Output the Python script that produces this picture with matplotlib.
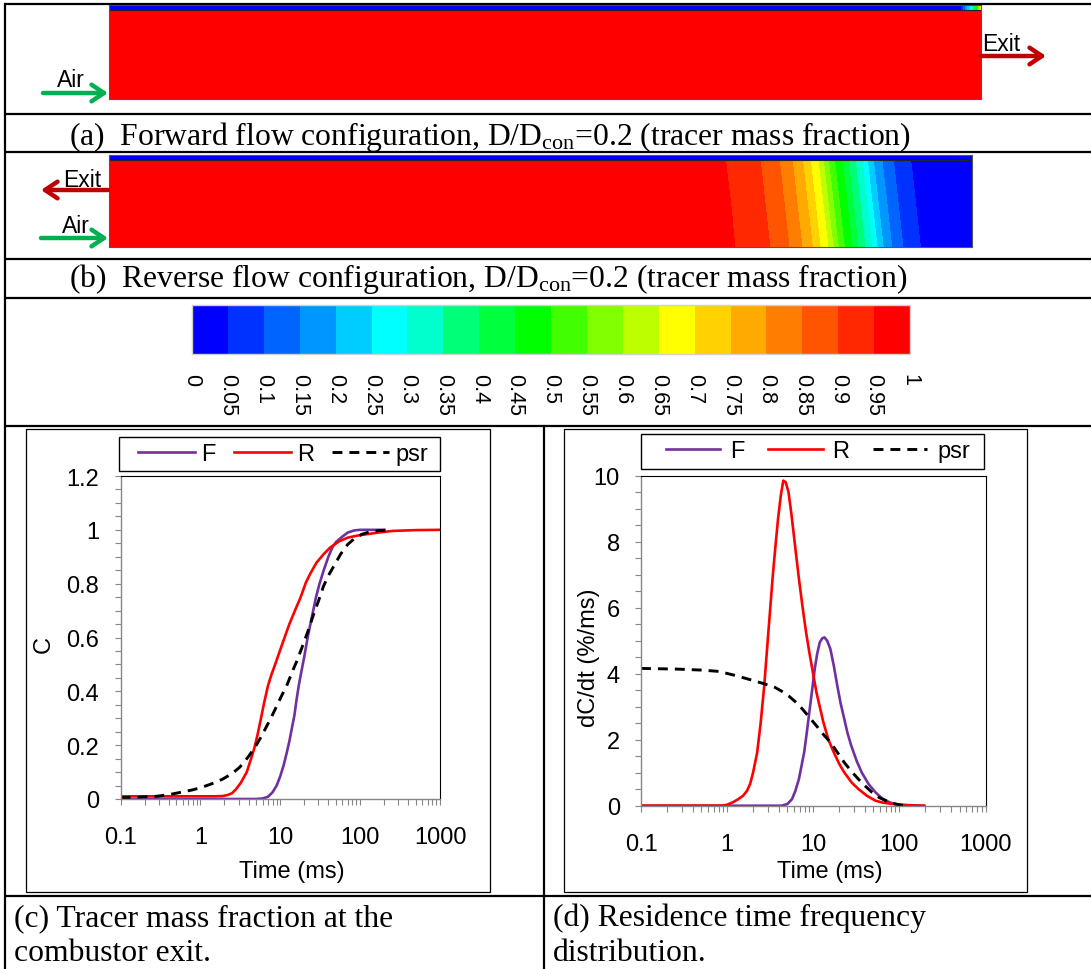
import numpy as np
import matplotlib
matplotlib.use("Agg")
import matplotlib.pyplot as plt
from matplotlib.colors import ListedColormap, BoundaryNorm
from matplotlib.lines import Line2D
from matplotlib.patches import Rectangle
from matplotlib.cm import ScalarMappable
import matplotlib.ticker as mticker

# ---------------- data ----------------
# contour levels / colour bar
levels = [0.0, 0.05, 0.1, 0.15, 0.2, 0.25, 0.3, 0.35, 0.4, 0.45, 0.5,
          0.55, 0.6, 0.65, 0.7, 0.75, 0.8, 0.85, 0.9, 0.95, 1.0]
level_labels = ["0", "0.05", "0.1", "0.15", "0.2", "0.25", "0.3", "0.35", "0.4", "0.45",
                "0.5", "0.55", "0.6", "0.65", "0.7", "0.75", "0.8", "0.85", "0.9", "0.95", "1"]
band_colors = ["#0000FF", "#0032FF", "#0064FF", "#0096FF", "#00CDFF", "#00FFFF",
               "#00FFCD", "#00FF78", "#00FF3C", "#00FF00", "#41FF00", "#82FF00",
               "#BEFF00", "#FFFF00", "#FFD200", "#FFAA00", "#FF7D00", "#FF5500",
               "#FF2800", "#FF0000"]

# forward flow: tracer in the top (air) channel along the axis
fwd_strip_pos = [0.0, 0.975, 0.979, 0.99, 1.0]
fwd_strip_C = [0.0, 0.0, 0.1, 0.3, 0.7]
# reverse flow: axial profile of tracer mass fraction
rev_pos = [0.0, 0.720, 0.760, 0.782, 0.797, 0.809, 0.818, 0.827, 0.833, 0.839, 0.846,
           0.855, 0.862, 0.870, 0.878, 0.884, 0.891, 0.901, 0.914, 0.934, 1.0]
rev_C = [1.0, 0.95, 0.90, 0.85, 0.80, 0.75, 0.70, 0.65, 0.60, 0.55, 0.50,
         0.45, 0.40, 0.35, 0.30, 0.25, 0.20, 0.15, 0.10, 0.05, 0.0]

# (c) tracer mass fraction at exit
tF_c = [0.1, 1, 3, 5, 6, 7, 8, 9, 10, 11, 12, 13, 14, 15, 16, 17, 18, 20, 22, 25, 28,
        31, 35, 40, 45, 50, 60, 70, 85, 100, 200]
CF_c = [0, 0, 0, 0, 0.002, 0.008, 0.025, 0.05, 0.085, 0.125, 0.17, 0.215, 0.265, 0.31,
        0.37, 0.42, 0.46, 0.53, 0.6, 0.68, 0.75, 0.8, 0.85, 0.9, 0.935, 0.955, 0.975,
        0.99, 0.998, 1.0, 1.0]
tR_c = [0.1, 0.5, 1, 1.5, 1.9, 2.2, 2.5, 2.8, 3.2, 3.8, 4.2, 4.7, 5.2, 5.7, 6.3, 7, 7.7,
        8.5, 10, 11.5, 13, 15.5, 18, 20.9, 24, 28.4, 35, 42, 55, 70, 90, 116, 170, 257,
        500, 1000]
CR_c = [0.01, 0.01, 0.01, 0.01, 0.011, 0.015, 0.022, 0.037, 0.06, 0.1, 0.14, 0.186,
        0.24, 0.297, 0.36, 0.42, 0.46, 0.495, 0.555, 0.606, 0.65, 0.705, 0.75, 0.804,
        0.84, 0.878, 0.91, 0.934, 0.958, 0.971, 0.978, 0.983, 0.99, 0.996, 0.999, 1.0]
tP_c = [0.1, 0.15, 0.2, 0.28, 0.4, 0.57, 0.8, 1.03, 1.4, 1.9, 2.5, 3.1, 3.6, 4.2, 5,
        5.7, 6.6, 7.7, 9, 10.4, 12, 14, 16.5, 19, 22, 25.7, 30, 34.7, 40, 47, 57, 70,
        85, 104, 130, 170, 250]
CP_c = [0.005, 0.006, 0.008, 0.01, 0.016, 0.025, 0.034, 0.043, 0.057, 0.074, 0.095,
        0.118, 0.14, 0.167, 0.2, 0.229, 0.265, 0.303, 0.345, 0.384, 0.42, 0.47, 0.52,
        0.569, 0.62, 0.68, 0.735, 0.79, 0.83, 0.866, 0.91, 0.946, 0.968, 0.983, 0.992,
        0.997, 1.0]

# (d) residence time frequency distribution
tF_d = [0.1, 1, 4.3, 5.0, 5.67, 6.2, 6.82, 7.3, 7.85, 8.4, 9.0, 9.7, 10.4, 11.1, 11.9,
        12.7, 13.5, 14.5, 15.8, 17.3, 19, 20.8, 22.9, 25, 27.6, 32, 36.5, 44, 53, 63,
        77, 100, 150, 190]
vF_d = [0, 0, 0, 0.05, 0.2, 0.45, 0.81, 1.2, 1.62, 2.2, 2.83, 3.5, 4.14, 4.6, 4.95,
        5.07, 5.1, 5.0, 4.75, 4.25, 3.64, 3.1, 2.63, 2.2, 1.82, 1.35, 1.01, 0.65, 0.4,
        0.22, 0.1, 0.02, 0.0, 0.0]
tR_d = [0.1, 0.5, 0.88, 1.0, 1.16, 1.35, 1.53, 1.7, 1.85, 2.0, 2.23, 2.45, 2.69, 3.0,
        3.39, 3.65, 3.9, 4.2, 4.49, 4.8, 5.16, 5.6, 6.21, 6.8, 7.48, 8.2, 9.0, 10.9,
        13.1, 15, 17.3, 20, 22.9, 28, 33.3, 42, 53, 65, 84.6, 120, 178, 195]
vR_d = [0, 0, 0, 0.03, 0.1, 0.2, 0.3, 0.45, 0.66, 1.0, 1.6, 2.5, 3.6, 5.2, 6.97, 7.9,
        8.69, 9.4, 9.85, 9.8, 9.5, 8.8, 7.78, 6.9, 6.06, 5.3, 4.65, 3.43, 2.53, 2.0,
        1.62, 1.27, 1.01, 0.7, 0.51, 0.3, 0.15, 0.09, 0.05, 0.02, 0.0, 0.0]
tP_d = [0.1, 0.26, 0.5, 0.8, 1.27, 2.03, 2.8, 3.56, 4.3, 5.16, 6.2, 7.48, 9.0, 10.9,
        13, 15.8, 19, 22.9, 28, 33.3, 40, 48.3, 58, 70, 85, 102, 110]
vP_d = [4.16, 4.14, 4.11, 4.07, 3.94, 3.79, 3.68, 3.59, 3.47, 3.33, 3.15, 2.93, 2.68,
        2.42, 2.17, 1.92, 1.62, 1.31, 1.03, 0.81, 0.6, 0.4, 0.25, 0.15, 0.07, 0.02, 0.01]

series_labels = ["F", "R", "psr"]
x_ticks = [0.1, 1, 10, 100, 1000]
x_ticklabels = ["0.1", "1", "10", "100", "1000"]
c_yticks = [0, 0.2, 0.4, 0.6, 0.8, 1.0, 1.2]
c_yticklabels = ["0", "0.2", "0.4", "0.6", "0.8", "1", "1.2"]
d_yticks = [0, 2, 4, 6, 8, 10]
d_yticklabels = ["0", "2", "4", "6", "8", "10"]

caption_a = r"(a)  Forward flow configuration, D/D$_{\mathrm{con}}$=0.2 (tracer mass fraction)"
caption_b = r"(b)  Reverse flow configuration, D/D$_{\mathrm{con}}$=0.2 (tracer mass fraction)"
caption_c = "(c) Tracer mass fraction at the\ncombustor exit."
caption_d = "(d) Residence time frequency\ndistribution."

# ---------------- style ----------------
W, H = 1091, 970
plt.rcParams["font.family"] = ["Liberation Sans", "DejaVu Sans"]
plt.rcParams["mathtext.fontset"] = "custom"
plt.rcParams["mathtext.rm"] = "Liberation Serif"
plt.rcParams["mathtext.it"] = "Liberation Serif:italic"
SERIF = "Liberation Serif"
PURPLE = "#7030A0"
RED = "#FF0000"
GREEN = "#00B050"
DKRED = "#C00000"
AXGRAY = "#868686"
FS = 17

fig = plt.figure(figsize=(W / 100, H / 100), dpi=100)
fig.patch.set_facecolor("white")


def fbox(x0, y0, x1, y1):
    return [x0 / W, 1 - y1 / H, (x1 - x0) / W, (y1 - y0) / H]


cmap = ListedColormap(band_colors)
norm = BoundaryNorm(levels, cmap.N)
strip = 0.055

# ---------------- contour (a) ----------------
axa = fig.add_axes(fbox(109, 6, 981, 100))
gx = np.linspace(0, 1, 900)
XA, YA = np.meshgrid(gx, np.linspace(0, 1 - strip, 60))
ZA = np.ones_like(XA)
axa.contourf(XA, YA, ZA, levels=levels, cmap=cmap, norm=norm)
XS, YS = np.meshgrid(gx, np.linspace(1 - strip, 1, 6))
ZS = np.interp(XS, fwd_strip_pos, fwd_strip_C)
axa.contourf(XS, YS, ZS, levels=levels, cmap=cmap, norm=norm)
axa.axhline(1 - strip, color="#222222", lw=0.8)

# ---------------- contour (b) ----------------
axb = fig.add_axes(fbox(109, 156, 972, 248))
XB, YB = np.meshgrid(gx, np.linspace(0, 1 - strip, 120))
eff = XB + 0.012 * (YB - 0.5)
ZB = np.interp(eff, rev_pos, rev_C)
axb.contourf(XB, YB, ZB, levels=levels, cmap=cmap, norm=norm)
XS2, YS2 = np.meshgrid(gx, np.linspace(1 - strip, 1, 6))
axb.contourf(XS2, YS2, np.zeros_like(XS2), levels=levels, cmap=cmap, norm=norm)
axb.axhline(1 - strip, color="#222222", lw=0.8)

for ax in (axa, axb):
    ax.set_xlim(0, 1)
    ax.set_ylim(0, 1)
    ax.set_xticks([])
    ax.set_yticks([])
    for s in ax.spines.values():
        s.set_color("#555555")
        s.set_linewidth(0.8)

# ---------------- colour bar ----------------
cax = fig.add_axes(fbox(192, 306, 910, 355))
sm = ScalarMappable(norm=norm, cmap=cmap)
cb = fig.colorbar(sm, cax=cax, orientation="horizontal", ticks=levels)
cb.set_ticklabels(level_labels)
cb.outline.set_edgecolor("#d0d0d0")
cb.outline.set_linewidth(1)
cax.tick_params(length=0, pad=14, labelsize=15.5, labelrotation=-90)

# ---------------- charts ----------------
def style_chart(ax, yticks, yticklabels, ylim, yminor):
    ax.set_xscale("log")
    ax.set_xlim(0.1, 1000)
    ax.set_ylim(*ylim)
    ax.xaxis.set_major_locator(mticker.FixedLocator(x_ticks))
    ax.xaxis.set_major_formatter(mticker.FixedFormatter(x_ticklabels))
    ax.xaxis.set_minor_locator(mticker.LogLocator(base=10, subs=np.arange(2, 10)))
    ax.xaxis.set_minor_formatter(mticker.NullFormatter())
    ax.set_yticks(yticks)
    ax.set_yticklabels(yticklabels)
    ax.yaxis.set_minor_locator(mticker.MultipleLocator(yminor))
    for s in ("left", "bottom"):
        ax.spines[s].set_color(AXGRAY)
        ax.spines[s].set_linewidth(1.0)
    for s in ("top", "right"):
        ax.spines[s].set_color("black")
        ax.spines[s].set_linewidth(0.8)
    ax.tick_params(which="both", direction="out", length=4.3, width=0.8,
                   color=AXGRAY, labelsize=FS)
    ax.tick_params(axis="y", which="both", pad=11)
    ax.tick_params(axis="x", which="both", pad=15)


def plot_series(ax, F, R, P):
    ax.plot(*F, color=PURPLE, lw=1.9, label=series_labels[0])
    ax.plot(*R, color=RED, lw=1.9, label=series_labels[1])
    ax.plot(*P, color="black", lw=2.1, linestyle=(0, (3.4, 2.4)), label=series_labels[2])


def add_legend(anchor_x, anchor_y, hlen, tpad, colsp):
    handles = [Line2D([], [], color=PURPLE, lw=1.9),
               Line2D([], [], color=RED, lw=1.9),
               Line2D([], [], color="black", lw=2.1, linestyle=(0, (3.4, 2.4)))]
    fig.legend(handles, series_labels, ncol=3, frameon=False, loc="center left",
               bbox_to_anchor=(anchor_x / W, 1 - anchor_y / H),
               bbox_transform=fig.transFigure, fontsize=FS, handlelength=hlen,
               handletextpad=tpad, columnspacing=colsp, borderpad=0, borderaxespad=0)


def place_labels(ax, box, xlab, xl_xy, ylab, yl_xy):
    x0, y0, x1, y1 = box
    ax.set_xlabel(xlab, fontsize=FS)
    ax.xaxis.set_label_coords((xl_xy[0] - x0) / (x1 - x0), (y1 - xl_xy[1]) / (y1 - y0))
    ax.xaxis.label.set_va("center")
    ax.xaxis.label.set_ha("center")
    ax.set_ylabel(ylab, fontsize=FS)
    ax.yaxis.set_label_coords((yl_xy[0] - x0) / (x1 - x0), (y1 - yl_xy[1]) / (y1 - y0))
    ax.yaxis.label.set_rotation_mode("default")
    ax.yaxis.label.set_va("center")
    ax.yaxis.label.set_ha("center")


box_c = (120.6, 477, 440, 800)
axc = fig.add_axes(fbox(*box_c))
plot_series(axc, (tF_c, CF_c), (tR_c, CR_c), (tP_c, CP_c))
style_chart(axc, c_yticks, c_yticklabels, (0, 1.2), 0.05)
place_labels(axc, box_c, "Time (ms)", (292, 872), "C", (44, 645))
add_legend(138, 455, 2.42, 0.25, 0.78)

box_d = (641, 476.7, 985.5, 806.7)
axd = fig.add_axes(fbox(*box_d))
plot_series(axd, (tF_d, vF_d), (tR_d, vR_d), (tP_d, vP_d))
style_chart(axd, d_yticks, d_yticklabels, (0, 10), 0.5)
place_labels(axd, box_d, "Time (ms)", (830, 872), "dC/dt (%/ms)", (589, 658))
add_legend(666, 452, 2.3, 0.42, 1.0)

# ---------------- overlay: table, frames, arrows, captions ----------------
ov = fig.add_axes([0, 0, 1, 1])
ov.set_xlim(0, W)
ov.set_ylim(H, 0)
ov.axis("off")
ov.set_zorder(5)
ov.patch.set_alpha(0)

for yy in (5, 115, 153, 260, 299, 427, 897):
    ov.plot([5, W], [yy, yy], color="black", lw=1.6, solid_capstyle="butt")
ov.plot([5, 5], [5, H], color="black", lw=1.6)
ov.plot([544, 544], [427, H], color="black", lw=1.6)

# chart frames and legend boxes
ov.add_patch(Rectangle((26, 430), 464, 463, fill=False, ec="black", lw=0.9))
ov.add_patch(Rectangle((564, 430), 463, 463, fill=False, ec="black", lw=0.9))
ov.add_patch(Rectangle((119, 438), 321, 34, fill=False, ec="black", lw=1.0))
ov.add_patch(Rectangle((641, 435), 343, 35, fill=False, ec="black", lw=1.0))


def arrow(x0, x1, y, color):
    ov.annotate("", xy=(x1, y), xytext=(x0, y),
                arrowprops=dict(arrowstyle="->,head_length=0.45,head_width=0.3",
                                lw=3.2, color=color, shrinkA=0, shrinkB=0,
                                mutation_scale=20))


arrow(43, 108, 94, GREEN)
arrow(981, 1046, 57, DKRED)
arrow(108, 41, 191, DKRED)
arrow(41, 108, 239, GREEN)
ov.text(71, 87, "Air", fontsize=16.5, ha="center", va="baseline")
ov.text(982, 51, "Exit", fontsize=16.5, ha="left", va="baseline")
ov.text(82, 187, "Exit", fontsize=16.5, ha="center", va="baseline")
ov.text(76, 233, "Air", fontsize=16.5, ha="center", va="baseline")

CAP = 22.8
ov.text(69, 145, caption_a, family=SERIF, fontsize=CAP, ha="left", va="baseline")
ov.text(69, 287, caption_b, family=SERIF, fontsize=CAP, ha="left", va="baseline")
ov.text(14, 961, caption_c, family=SERIF, fontsize=CAP, ha="left", va="baseline",
        linespacing=1.25)
ov.text(553, 961, caption_d, family=SERIF, fontsize=CAP, ha="left", va="baseline",
        linespacing=1.25)

fig.savefig("out.png", dpi=100, facecolor="white")
